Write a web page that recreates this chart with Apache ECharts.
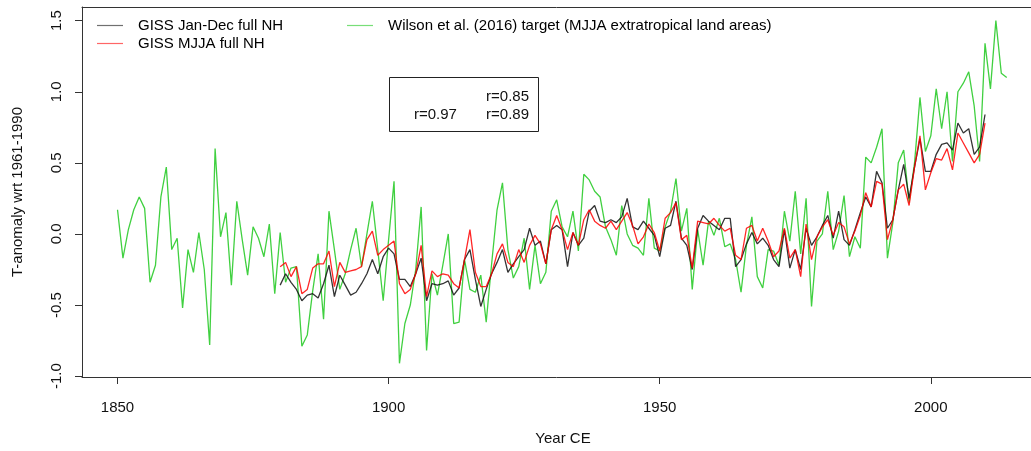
<!DOCTYPE html>
<html>
<head>
<meta charset="utf-8">
<script src="https://cdn.jsdelivr.net/npm/echarts@6/dist/echarts.min.js"></script>
<style>
html,body{margin:0;padding:0;background:#fff;}
#chart{width:1031px;height:451px;}
</style>
</head>
<body>
<div id="chart"></div>
<script>
// ---- data ----
const wilsonStart = 1850;
const wilsonValues = [
 0.17,-0.17,0.03,0.17,0.26,0.18,-0.34,-0.22,0.26,0.47,
 -0.11,-0.03,-0.52,-0.11,-0.27,0.01,-0.25,-0.78,0.60,-0.02,
 0.15,-0.36,0.23,-0.04,-0.29,0.05,-0.03,-0.16,0.07,-0.42,
 0.01,-0.34,-0.24,-0.23,-0.79,-0.71,-0.40,-0.14,-0.60,0.16,
 -0.11,-0.39,-0.28,-0.11,0.04,-0.23,0.00,0.23,-0.11,-0.47,
 -0.04,0.37,-0.91,-0.63,-0.50,-0.25,0.19,-0.82,-0.28,-0.43,
 -0.22,0.00,-0.63,-0.62,-0.18,-0.39,-0.41,-0.29,-0.62,-0.21,
 0.17,0.36,-0.11,-0.31,-0.23,-0.03,-0.39,-0.08,-0.35,-0.27,
 0.16,0.24,0.05,-0.02,0.16,-0.12,0.42,0.38,0.30,0.26,
 0.05,-0.04,-0.15,0.20,0.00,-0.08,-0.10,-0.15,0.25,-0.10,
 -0.12,0.05,0.16,0.39,0.02,0.18,-0.39,0.03,-0.22,0.09,
 -0.01,0.11,-0.09,-0.07,-0.18,-0.41,-0.08,0.12,-0.30,-0.38,
 -0.11,-0.12,-0.22,0.16,-0.05,0.30,-0.14,0.25,-0.51,-0.05,
 0.00,0.30,-0.11,0.02,0.27,-0.16,-0.02,-0.10,0.54,0.50,
 0.61,0.74,-0.17,0.08,0.50,0.59,0.22,0.50,0.96,0.58,
 0.69,1.02,0.74,1.00,0.51,1.00,1.06,1.14,0.90,0.51,
 1.34,1.02,1.50,1.13,1.10
];
const gissStart = 1880;
const gissAnnual = [
 -0.36,-0.28,-0.34,-0.39,-0.47,-0.43,-0.42,-0.45,-0.35,-0.22,
 -0.44,-0.29,-0.36,-0.43,-0.41,-0.35,-0.28,-0.18,-0.28,-0.16,
 -0.10,-0.14,-0.32,-0.32,-0.37,-0.28,-0.17,-0.47,-0.35,-0.36,
 -0.35,-0.33,-0.43,-0.38,-0.18,-0.11,-0.32,-0.51,-0.39,-0.28,
 -0.20,-0.11,-0.27,-0.21,-0.16,-0.11,0.04,-0.08,-0.05,-0.21,
 0.03,0.06,0.03,-0.23,0.01,-0.08,-0.03,0.16,0.20,0.09,
 0.08,0.10,0.08,0.12,0.25,0.05,0.03,0.09,0.04,-0.01,
 -0.16,0.04,0.06,0.23,-0.03,-0.08,-0.25,0.04,0.13,0.09,
 0.06,0.03,0.11,0.11,-0.23,-0.18,-0.07,0.01,-0.07,-0.03,
 -0.08,-0.18,-0.23,0.03,-0.24,-0.11,-0.25,0.04,-0.08,-0.02,
 0.06,0.13,-0.03,0.16,-0.04,-0.08,0.03,0.15,0.26,0.19,
 0.44,0.36,0.04,0.10,0.31,0.49,0.25,0.47,0.67,0.44,
 0.44,0.56,0.63,0.64,0.59,0.78,0.71,0.74,0.56,0.61,
 0.84
];
const gissMJJA = [
 -0.23,-0.20,-0.30,-0.23,-0.42,-0.39,-0.24,-0.21,-0.21,-0.12,
 -0.37,-0.20,-0.27,-0.26,-0.25,-0.23,-0.04,0.02,-0.15,-0.11,
 -0.08,-0.05,-0.35,-0.42,-0.39,-0.28,-0.08,-0.44,-0.26,-0.30,
 -0.28,-0.29,-0.35,-0.38,-0.18,0.03,-0.27,-0.37,-0.37,-0.28,
 -0.14,-0.07,-0.20,-0.23,-0.11,-0.20,-0.08,-0.01,-0.07,-0.21,
 0.03,0.13,0.03,-0.11,0.01,-0.08,0.10,0.17,0.09,0.06,
 0.04,0.09,0.03,0.09,0.15,0.06,-0.07,-0.02,0.07,0.01,
 -0.12,0.11,0.15,0.22,-0.04,-0.01,-0.24,0.09,0.08,0.07,
 0.11,0.06,0.02,0.04,-0.15,-0.18,0.04,0.06,-0.05,0.04,
 -0.05,-0.16,-0.12,0.04,-0.17,-0.11,-0.30,0.07,-0.18,-0.02,
 0.05,0.10,-0.01,0.08,0.05,-0.07,0.02,0.13,0.29,0.19,
 0.37,0.35,-0.04,0.10,0.31,0.35,0.20,0.47,0.69,0.31,
 0.43,0.53,0.52,0.60,0.45,0.71,0.64,0.57,0.50,0.56,
 0.78
];
const xTicks = [1850, 1900, 1950, 2000];
const yTicks = [-1.0, -0.5, 0.0, 0.5, 1.0, 1.5];
const names = ['GISS Jan-Dec full NH', 'GISS MJJA full NH', 'Wilson et al. (2016) target (MJJA extratropical land areas)'];
const corrLabels = ['r=0.85', 'r=0.97', 'r=0.89'];
const xTitle = 'Year CE';
const yTitle = 'T-anomaly wrt 1961-1990';

const pairs = (start, arr) => arr.map((v, i) => [start + i, v]);
const FONT = '"Liberation Sans", Arial, Helvetica, sans-serif';
const LINE_ICON = 'path://M0,0M26,14M0,6.4L26,6.4L26,7.6L0,7.6Z';

const chart = echarts.init(document.getElementById('chart'), null, {renderer: 'canvas'});
const legendCommon = {
  orient: 'horizontal', selectedMode: false, padding: 0,
  itemWidth: 26, itemHeight: 14, icon: LINE_ICON,
  itemStyle: {opacity: 0.6, borderWidth: 0},
  textStyle: {fontFamily: FONT, fontSize: 15, color: '#000', padding: [0, 0, 0, 10]}
};
chart.setOption({
  animation: false,
  backgroundColor: '#fff',
  grid: {left: 82, top: 7, width: 951, height: 370, containLabel: false},
  legend: [
    Object.assign({data: [names[0]], left: 97, top: 18}, legendCommon),
    Object.assign({data: [names[1]], left: 97, top: 36}, legendCommon),
    Object.assign({data: [names[2]], left: 347, top: 18}, legendCommon)
  ],
  xAxis: [{
    type: 'value', min: 1843.45, max: 2018.48, position: 'bottom',
    splitLine: {show: false},
    axisLine: {show: true, onZero: false, lineStyle: {color: '#333', width: 1}},
    axisTick: {show: true, length: 7, customValues: xTicks, lineStyle: {color: '#333'}},
    axisLabel: {show: true, customValues: xTicks, margin: 23, fontFamily: FONT, fontSize: 15, color: '#111',
                formatter: v => String(v)}
  }, {
    type: 'value', min: 1843.45, max: 2018.48, position: 'top',
    splitLine: {show: false},
    axisLine: {show: true, onZero: false, lineStyle: {color: '#333', width: 1}},
    axisTick: {show: false}, axisLabel: {show: false}
  }],
  yAxis: {
    type: 'value', min: -1.006, max: 1.596,
    splitLine: {show: false},
    axisLine: {show: true, onZero: false, lineStyle: {color: '#333', width: 1}},
    axisTick: {show: true, length: 7, customValues: yTicks, lineStyle: {color: '#333'}},
    axisLabel: {show: true, customValues: yTicks, rotate: 90, margin: 18, fontFamily: FONT, fontSize: 15, color: '#111',
                formatter: v => v.toFixed(1)}
  },
  graphic: [
    {type: 'text', x: 18, y: 192, rotation: Math.PI / 2,
     style: {text: yTitle, font: '15px ' + FONT, fill: '#111', textAlign: 'center', textVerticalAlign: 'middle'}},
    {type: 'text', x: 563, y: 439,
     style: {text: xTitle, font: '15px ' + FONT, fill: '#111', textAlign: 'center', textVerticalAlign: 'middle'}},
    {type: 'rect', shape: {x: 389.5, y: 77.5, width: 149, height: 54},
     style: {fill: 'none', stroke: '#222', lineWidth: 1}},
    {type: 'text', x: 529, y: 97,
     style: {text: corrLabels[0], font: '15px ' + FONT, fill: '#111', textAlign: 'right', textVerticalAlign: 'middle'}},
    {type: 'text', x: 414, y: 115,
     style: {text: corrLabels[1], font: '15px ' + FONT, fill: '#111', textAlign: 'left', textVerticalAlign: 'middle'}},
    {type: 'text', x: 529, y: 115,
     style: {text: corrLabels[2], font: '15px ' + FONT, fill: '#111', textAlign: 'right', textVerticalAlign: 'middle'}}
  ],
  series: [
    {name: names[2], type: 'line', data: pairs(wilsonStart, wilsonValues), symbol: 'none',
     lineStyle: {color: '#1ec81e', width: 1.3, opacity: 0.85}, itemStyle: {color: '#1ec81e'}},
    {name: names[0], type: 'line', data: pairs(gissStart, gissAnnual), symbol: 'none',
     lineStyle: {color: '#111', width: 1.3, opacity: 0.85}, itemStyle: {color: '#111'}},
    {name: names[1], type: 'line', data: pairs(gissStart, gissMJJA), symbol: 'none',
     lineStyle: {color: '#ff0000', width: 1.3, opacity: 0.85}, itemStyle: {color: '#ff0000'}}
  ]
});
</script>
</body>
</html>
